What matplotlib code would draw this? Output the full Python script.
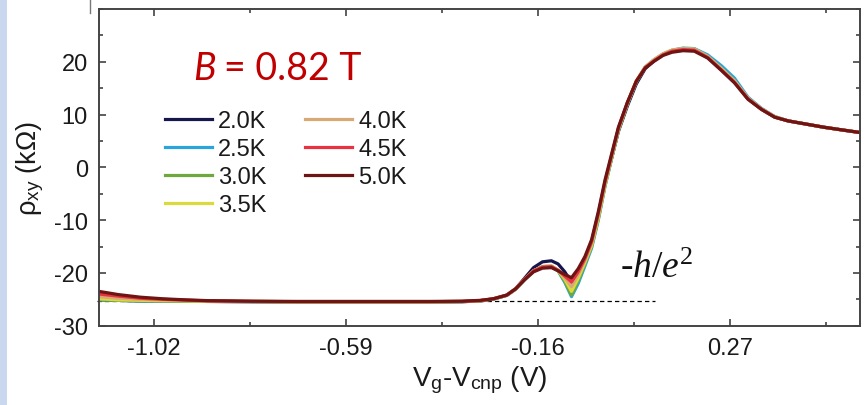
import matplotlib
matplotlib.use("Agg")
import matplotlib.pyplot as plt
from matplotlib.ticker import FixedLocator, MultipleLocator
from matplotlib.lines import Line2D
from matplotlib.patches import Rectangle

plt.rcParams['font.family'] = ['Liberation Sans', 'DejaVu Sans']
plt.rcParams['axes.unicode_minus'] = False
plt.rcParams['mathtext.fontset'] = 'custom'
plt.rcParams['mathtext.rm'] = 'Liberation Serif'
plt.rcParams['mathtext.it'] = 'Liberation Serif:italic'
plt.rcParams['mathtext.sf'] = 'Liberation Sans'

# ---------------- data ----------------
V = [-1.143, -1.10, -1.05, -1.00, -0.95, -0.90, -0.80, -0.70, -0.60, -0.50,
     -0.40, -0.33, -0.29, -0.26, -0.23, -0.21, -0.19, -0.17, -0.15, -0.13,
     -0.115, -0.10, -0.085, -0.07, -0.055, -0.04, -0.025, -0.01, 0.005, 0.02,
     0.04, 0.06, 0.08, 0.10, 0.12, 0.14, 0.165, 0.19, 0.22, 0.25,
     0.28, 0.31, 0.34, 0.37, 0.40, 0.44, 0.48, 0.52, 0.561]

rho_2p0K = [-25.1, -25.2, -25.3, -25.3, -25.35, -25.4, -25.45, -25.5, -25.5, -25.5,
            -25.5, -25.45, -25.3, -24.95, -24.25, -23.0, -21.0, -19.0, -17.9, -17.7,
            -18.3, -19.8, -21.8, -20.0, -17.5, -14.2, -9.0, -3.2, 1.8, 6.8,
            11.6, 15.8, 18.7, 20.2, 21.4, 22.1, 22.5, 22.4, 21.0, 18.7,
            16.3, 13.1, 11.1, 9.6, 8.8, 8.2, 7.6, 7.1, 6.6]
rho_2p5K = [-25.1, -25.2, -25.3, -25.3, -25.35, -25.4, -25.45, -25.5, -25.5, -25.5,
            -25.5, -25.45, -25.3, -24.95, -24.25, -23.1, -21.3, -19.6, -18.8, -18.7,
            -19.6, -21.8, -24.5, -22.0, -18.7, -15.3, -10.0, -3.6, 1.7, 7.0,
            12.0, 16.2, 19.0, 20.4, 21.5, 22.2, 22.6, 22.5, 21.3, 19.3,
            16.9, 13.3, 11.2, 9.6, 8.8, 8.2, 7.6, 7.1, 6.6]
rho_3p0K = [-25.1, -25.2, -25.3, -25.3, -25.35, -25.4, -25.45, -25.5, -25.5, -25.5,
            -25.5, -25.45, -25.3, -24.95, -24.25, -23.1, -21.3, -19.7, -18.9, -18.8,
            -19.6, -21.6, -24.2, -21.5, -18.3, -15.0, -9.8, -3.5, 1.8, 7.0,
            12.0, 16.2, 18.9, 20.3, 21.4, 22.1, 22.4, 22.3, 20.9, 18.6,
            16.2, 13.0, 11.0, 9.5, 8.8, 8.2, 7.6, 7.1, 6.6]
rho_3p5K = [-24.9, -25.1, -25.2, -25.25, -25.3, -25.35, -25.4, -25.45, -25.45, -25.45,
            -25.45, -25.4, -25.25, -24.9, -24.2, -23.0, -21.2, -19.6, -18.8, -18.7,
            -19.5, -21.2, -23.5, -21.0, -18.0, -14.8, -9.5, -3.3, 2.0, 7.2,
            12.1, 16.3, 19.0, 20.4, 21.5, 22.2, 22.5, 22.4, 21.0, 18.8,
            16.4, 13.1, 11.1, 9.6, 8.8, 8.2, 7.6, 7.1, 6.6]
rho_4p0K = [-24.5, -24.8, -25.0, -25.1, -25.2, -25.3, -25.4, -25.45, -25.45, -25.45,
            -25.45, -25.4, -25.25, -24.9, -24.2, -23.0, -21.2, -19.6, -18.8, -18.7,
            -19.5, -20.9, -22.6, -20.3, -17.6, -14.4, -9.0, -3.0, 2.2, 7.3,
            12.2, 16.4, 19.0, 20.4, 21.5, 22.2, 22.5, 22.4, 21.0, 18.7,
            16.3, 13.1, 11.1, 9.6, 8.8, 8.2, 7.6, 7.1, 6.6]
rho_4p5K = [-24.0, -24.4, -24.8, -25.0, -25.15, -25.3, -25.4, -25.45, -25.45, -25.45,
            -25.45, -25.4, -25.25, -24.9, -24.2, -23.0, -21.2, -19.6, -18.9, -18.8,
            -19.5, -20.6, -21.7, -19.8, -17.3, -14.1, -8.8, -2.8, 2.3, 7.4,
            12.2, 16.3, 18.9, 20.2, 21.3, 22.0, 22.3, 22.2, 20.8, 18.5,
            16.1, 13.0, 11.0, 9.5, 8.8, 8.2, 7.6, 7.1, 6.6]
rho_5p0K = [-23.5, -24.1, -24.6, -24.9, -25.1, -25.25, -25.35, -25.4, -25.4, -25.4,
            -25.4, -25.35, -25.2, -24.9, -24.2, -23.0, -21.3, -19.8, -19.1, -19.0,
            -19.6, -20.3, -20.9, -19.2, -16.9, -13.7, -8.4, -2.4, 2.6, 7.6,
            12.3, 16.3, 18.8, 20.1, 21.2, 21.8, 22.1, 22.0, 20.7, 18.4,
            16.0, 12.9, 11.0, 9.5, 8.8, 8.2, 7.6, 7.1, 6.6]

labels = ['2.0K', '2.5K', '3.0K', '3.5K', '4.0K', '4.5K', '5.0K']
series = [rho_2p0K, rho_2p5K, rho_3p0K, rho_3p5K, rho_4p0K, rho_4p5K, rho_5p0K]
colors = ['#15174c', '#2aa4dd', '#6fa83c', '#dada3c', '#d9a877', '#e8323f', '#6e1414']

quantum_x = [-1.148, 0.102]
quantum_y = [-25.35, -25.35]

xticks = [-1.02, -0.59, -0.16, 0.27]
xminor = [-0.805, -0.375, 0.055, 0.485]
yticks = [-30, -20, -10, 0, 10, 20]

# ---------------- figure ----------------
W, H = 866, 406
fig = plt.figure(figsize=(W / 100, H / 100), dpi=100)
fig.patches.append(Rectangle((0, 0), 7 / W, 1, transform=fig.transFigure,
                             facecolor='#c9d7ef', edgecolor='none', zorder=0))
fig.lines.append(Line2D([90 / W, 90 / W], [1, 1 - 14 / H], transform=fig.transFigure,
                        color='#777777', lw=1.0))

ax = fig.add_axes([99 / W, (H - 326.7) / H, (860 - 99) / W, (326.7 - 10) / H])

for vals, lab, col in zip(series, labels, colors):
    ax.plot(V, vals, color=col, lw=2.3, label=lab, solid_joinstyle='round')

ax.plot(quantum_x, quantum_y, color='black', lw=0.9, ls=(0, (3.5, 2.5)), clip_on=False, zorder=1)

ax.set_xlim(-1.143, 0.561)
ax.set_ylim(-30, 30)
ax.xaxis.set_major_locator(FixedLocator(xticks))
ax.xaxis.set_minor_locator(FixedLocator(xminor))
ax.set_xticklabels(['%.2f' % t for t in xticks])
ax.yaxis.set_major_locator(FixedLocator(yticks))
ax.yaxis.set_minor_locator(MultipleLocator(5))

for sp in ax.spines.values():
    sp.set_color('#444444')
    sp.set_linewidth(1.4)
ax.tick_params(which='both', direction='in', top=True, right=True, color='#333333', width=1.1)
ax.tick_params(which='major', length=5, labelsize=17, pad=8, labelcolor='#1a1a1a')
ax.tick_params(which='minor', length=3)

ax.set_xlabel(r'V$_{\mathsf{g}}$-V$_{\mathsf{cnp}}$ (V)', fontsize=20, labelpad=3, color='#1a1a1a')
ax.set_ylabel(r'ρ$_{\mathsf{xy}}$ (kΩ)', fontsize=19.5, labelpad=6, color='#1a1a1a')

leg = ax.legend(ncol=2, loc='upper left', bbox_to_anchor=((165 - 99) / 761, (326.7 - 111.5) / 316.7),
                frameon=False, fontsize=17, handlelength=2.0, handletextpad=0.25,
                columnspacing=1.63, labelspacing=0.25, borderpad=0, borderaxespad=0)
for t in leg.get_texts():
    t.set_color('#1a1a1a')

fig.text(193 / W, (H - 80) / H, 'B', fontsize=27, family='Lato', style='italic',
         color='#c00000', ha='left', va='baseline')
fig.text(224 / W, (H - 80) / H, '= 0.82 T', fontsize=27, family='Lato',
         color='#c00000', ha='left', va='baseline')

ax.text(0.024, -20.8, r'-$h/e^{\mathrm{2}}$', fontsize=27, family='Liberation Serif',
        style='italic', color='#111111', ha='left', va='baseline')

fig.savefig('out.png', dpi=100)
